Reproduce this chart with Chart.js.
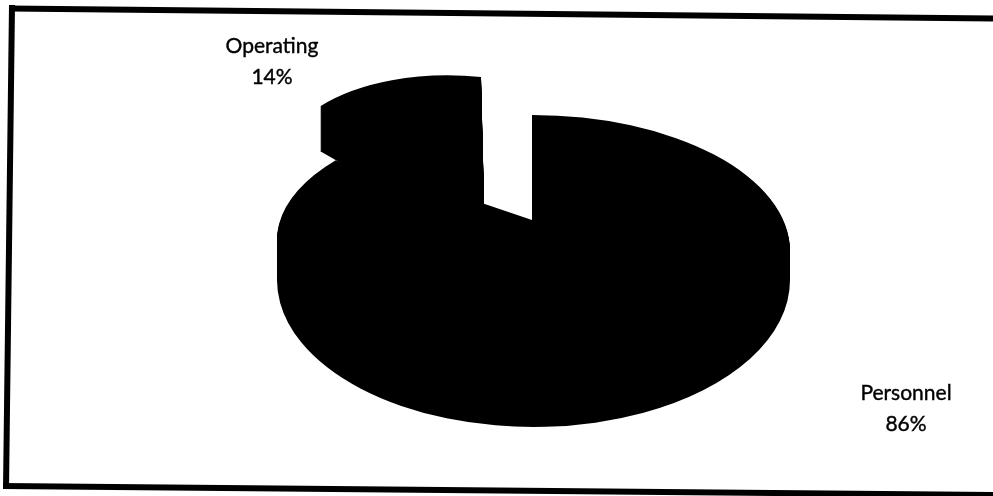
<!DOCTYPE html>
<html>
<head>
<meta charset="utf-8">
<style>
  html, body { margin: 0; padding: 0; background: #fff; }
  canvas { display: block; }
</style>
<script src="https://cdn.jsdelivr.net/npm/chart.js@4"></script>
</head>
<body>
<canvas id="pie" width="993" height="496"></canvas>
<script>
const categories = ["Personnel", "Operating"];
const shares = [86, 14];

// Tilted views of the Personnel slice. The original has perspective, so the
// outline is pieced together from a few ellipses (cx, cy = arc centre on screen).
const bodyBottom = 280;
const personnelParts = [
  { name: "right", cx: 532, cy: 251, rx: 258, ry: 136, clip: [532, 0, 461, 251] },
  { name: "left", cx: 533, cy: 240, rx: 256, ry: 125, clip: [0, 0, 533, 240] },
  { name: "notch", cx: 532, cy: 220, rx: 256, ry: 105, clip: [470, 0, 63, 496] }
];
const personnelFront = { cx: 533.5, cy: bodyBottom, rx: 256.5, ry: 147 };

const operatingView = { cx: 484, cy: 200, rx: 210, ry: 123, shearX: 3, shearY: 20, depth: 45 };

// Label anchors (centre x, baseline y of first line)
const labelSpots = [
  { x: 906, y: 400 },
  { x: 272, y: 53 }
];

// Scan frame, slightly skewed
const frameLines = [
  [9, 8.5, 993, 18.5],
  [12, 5, 6, 489],
  [3, 486, 993, 495]
];

function drawArcAt(ctx, arc, v, clip, off) {
  const R = arc.outerRadius;
  const a = v.rx / R, d = v.ry / R;
  ctx.save();
  if (clip) {
    ctx.beginPath();
    ctx.rect(clip[0], clip[1], clip[2], clip[3]);
    ctx.clip();
  }
  ctx.transform(a, 0, 0, d, v.cx - a * arc.x, v.cy + off - d * arc.y);
  arc.draw(ctx);
  ctx.restore();
}

function drawPersonnel(ctx, arc) {
  // lower half of the body
  drawArcAt(ctx, arc, personnelFront, [0, bodyBottom, 993, 216], 0);
  // side band: upper halves pushed down to the body
  personnelParts.slice(0, 2).forEach(p => {
    for (let off = bodyBottom - p.cy; off >= 0; off--) {
      const c = p.clip;
      drawArcAt(ctx, arc, p, [c[0], c[1], c[2], c[3] + off + 1], off);
    }
  });
  const filler = personnelParts[2];
  drawArcAt(ctx, arc, filler, filler.clip, 0);
}

function drawOperating(ctx, arc, v) {
  const R = arc.outerRadius;
  const a = v.rx / R, b = v.shearY / R, c = v.shearX / R, d = v.ry / R;
  for (let off = v.depth; off >= 0; off--) {
    ctx.save();
    ctx.transform(a, b, c, d, v.cx - a * arc.x - c * arc.y, v.cy + off - b * arc.x - d * arc.y);
    arc.draw(ctx);
    ctx.restore();
  }
}

const tiltedPie = {
  id: "tiltedPie",
  beforeDatasetDraw(chart, args) {
    const ctx = chart.ctx;
    const arcs = args.meta.data;
    drawOperating(ctx, arcs[1], operatingView);
    drawPersonnel(ctx, arcs[0]);
    return false;
  },
  afterDraw(chart) {
    const ctx = chart.ctx;
    ctx.save();
    ctx.strokeStyle = "#000";
    ctx.lineWidth = 6;
    frameLines.forEach(l => {
      ctx.beginPath();
      ctx.moveTo(l[0], l[1]);
      ctx.lineTo(l[2], l[3]);
      ctx.stroke();
    });
    ctx.fillStyle = "#000";
    ctx.lineWidth = 0.4;
    ctx.font = '21px Lato, "Open Sans", sans-serif';
    ctx.textAlign = "center";
    categories.forEach((name, i) => {
      const s = labelSpots[i];
      [name, shares[i] + "%"].forEach((line, k) => {
        ctx.fillText(line, s.x, s.y + k * 31);
        ctx.strokeText(line, s.x, s.y + k * 31);
      });
    });
    ctx.restore();
  }
};

new Chart(document.getElementById("pie").getContext("2d"), {
  type: "pie",
  data: {
    labels: categories,
    datasets: [{
      data: shares,
      backgroundColor: "#000",
      borderWidth: 0
    }]
  },
  options: {
    responsive: false,
    animation: false,
    plugins: {
      legend: { display: false },
      tooltip: { enabled: false }
    }
  },
  plugins: [tiltedPie]
});
</script>
</body>
</html>
